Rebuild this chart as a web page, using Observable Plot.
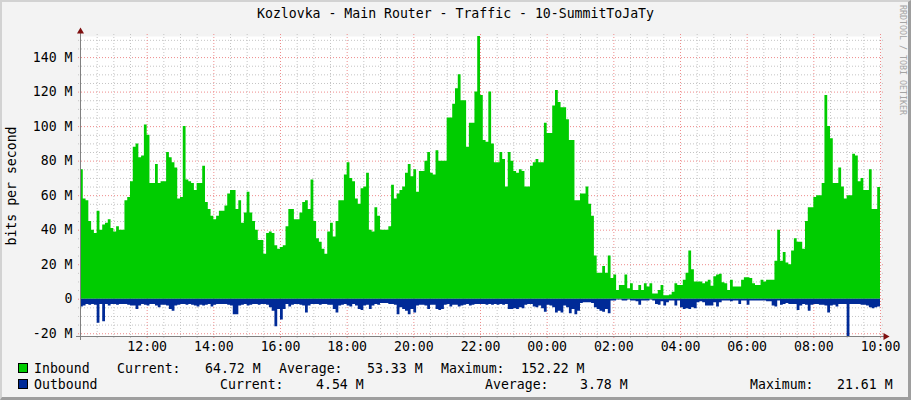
<!DOCTYPE html>
<html><head><meta charset="utf-8">
<script src="https://cdn.jsdelivr.net/npm/d3@7"></script>
<script src="https://cdn.jsdelivr.net/npm/@observablehq/plot@0.6"></script>
<style>
html,body{margin:0;padding:0;background:#f3f3f3;}
#wrap{position:relative;width:911px;height:400px;background:#f3f3f3;overflow:hidden;font-family:"DejaVu Sans Mono",monospace;font-size:13.2px;color:#000;}
#wrap svg{position:absolute;left:0;top:0;}
.t{position:absolute;white-space:pre;line-height:1;}
.sq{position:absolute;width:10px;height:10px;box-sizing:border-box;border:1px solid #000;}
#border{position:absolute;left:0;top:0;width:911px;height:400px;box-sizing:border-box;border-left:2px solid #d2d2d2;border-top:2px solid #d2d2d2;border-right:3px solid #9e9e9e;border-bottom:3px solid #9e9e9e;pointer-events:none;}
</style></head>
<body><div id="wrap"></div>
<script>
// 5-minute samples, 10:00 -> 10:00 next day (Mbit/s)
const inbound = [
 75,58,57,45,40,38,51,40,43,44,46,41,39,42,40,40,57,59,68,88,90,82,83,101,95,67,67,78,67,68,68,85,82,79,76,58,
 59,100,69,68,67,63,67,67,77,56,52,48,46,48,51,51,54,61,63,63,52,57,44,50,62,50,45,40,34,34,26,38,39,38,31,29,
 30,31,42,52,52,46,46,50,56,57,52,69,45,35,33,29,26,39,44,36,45,57,57,72,79,70,68,58,55,64,65,73,40,39,53,48,
 40,40,40,42,66,58,61,63,65,73,78,71,75,62,74,74,80,85,73,72,86,80,80,80,105,105,113,122,130,115,115,88,102,102,120,152.22,
 118,92,91,120,90,79,79,85,81,65,85,80,74,73,75,74,65,65,77,79,81,79,79,102,96,96,112,121,114,111,111,104,92,92,57,57,
 61,61,65,55,48,25,15,15,19,15,25,12,14,5,8,8,14,6,9,5,5,8,5,9,7,9,3,3,5,8,2,2,2.5,4,9,8,
 8,11,15,28,17,10,10,10,9,10,11,7.5,13,14,14.5,9.5,9,5,11,7,7,7,11,12.5,12.5,12,9,8,8,11,10,11,11,11,22,40,
 22,27,21,20,28,35,33,33,29,45,53,53,59,60,60,67,118,100,93,67,67,76,65,58,60,60,84,83,68,70,63,63,75,52,52,64.72
];
const outbound = [
 4.5,4,3,3.5,3,3.5,14,3,13,3,4,3,3,3.5,3,3,3,3.5,4,4,6,4,3,3.5,4,3,3,4,5,3.5,3.5,4,6,7,4,3.5,
 3,3,3.5,3,3.5,4,4.5,3.5,4,3.5,3,4.5,3.5,3,3,3,3,3.5,4,9,9,4,3.5,3,4,3.5,3,3,3.5,3,3,3.5,5,7,16,6,
 12,6,3,4.5,3.5,3,3,3.5,4,8,4,3,3,3,3.5,3,3,3.5,3.5,6,8,4,3.5,3,4,4.5,3,4,6,6.5,4,3.5,6,4,3,3.5,
 2.5,2.5,2.5,3,3,3.5,9,5,6,7,9,6,8,4,3.5,3.5,4,6,3.5,3.5,6,6.5,6,3.5,3,4.5,3.5,3.5,4.5,4,3.5,3,4,3.5,3,3,
 3,3,3.5,3,3.5,3,3.5,3,3.5,3,6,6,5.5,6,5,5.5,3.5,3,3,4.5,5,4,5.5,7.5,3.5,4,5,8,7,8,4,5,8.5,6,9,7,
 2.5,2,2,2,2.5,5,6,7,7.5,6,8.5,1,1,0.5,0.5,1,1,0.5,1,1,1.5,3.5,1,1,1,0.5,1,3,3.5,1.5,4,2,1,1,4,1,
 5,6,5.5,6,5,5.5,2,1.5,2,4,4,4,2,4.5,2,1,1,1,1.5,1,1,3,1,1,3.5,1,1,1,1,1,1,1.5,1.5,4,4.5,1,
 3.5,3,2.5,3,3,3,6.5,4,3,3.5,7,3.5,3,3,3.5,3.5,4,8,4,3.5,4.5,3,3,3,21.61,3,3,3,3,3.5,3.5,4,5,5.5,5,4.54
];
const xTickLabels = ["12:00","14:00","16:00","18:00","20:00","22:00","00:00","02:00","04:00","06:00","08:00","10:00"];
const yTickValues = [-20,0,20,40,60,80,100,120,140];
const yTickLabels = ["-20 M","0","20 M","40 M","60 M","80 M","100 M","120 M","140 M"];
const yMin = -21.61, yMax = 152.22;
const legendRows = [
  {name:"Inbound", color:"#00cc00", cur:"64.72 M", avg:"53.33 M", max:"152.22 M"},
  {name:"Outbound", color:"#002a97", cur:"4.54 M", avg:"3.78 M", max:"21.61 M"}
];

const HOUR = 3600*1000, STEP = 5*60*1000;
const start = Date.UTC(2024,0,1,10,0), end = start + 24*HOUR;
const rows = inbound.map((v,i)=>({t:new Date(start+i*STEP), inb:v, out:-outbound[i]}));
// closing sample so the last step reaches the right edge
rows.push({t:new Date(end), inb:inbound[inbound.length-1], out:-outbound[outbound.length-1]});
const xMajor = d3.utcHour.every(2).range(new Date(start), new Date(end+1));
const xMinor = d3.utcMinute.every(30).range(new Date(start), new Date(end+1)).filter(d => d.getUTCMinutes() !== 0 || d.getUTCHours() % 2 !== 0);
const xTicks = xTickLabels.map((s,i)=> new Date(start + (i+1)*2*HOUR));
const xLab = new Map(xTicks.map((d,i)=>[+d, xTickLabels[i]]));
const yLab = new Map(yTickValues.map((v,i)=>[v, yTickLabels[i]]));
const yMinor = d3.range(-20, 151, 5).filter(v => v % 20 !== 0);

const chart = Plot.plot({
  width: 911, height: 400,
  marginLeft: 80, marginRight: 31, marginTop: 36, marginBottom: 64,
  style: {background: "transparent", fontFamily: "DejaVu Sans Mono", fontSize: "13.2px", color: "#000", overflow: "visible"},
  x: {type: "utc", domain: [new Date(start), new Date(end)]},
  y: {domain: [yMin, yMax]},
  marks: [
    Plot.frame({fill: "#ffffff", stroke: "none"}),
    Plot.ruleY(yMinor, {stroke: "#c4c4c4", strokeDasharray: "1,2", insetLeft: -2, insetRight: -3}),
    Plot.ruleX(xMinor, {stroke: "#c4c4c4", strokeDasharray: "1,2", insetTop: -2, insetBottom: -2}),
    Plot.ruleY(yTickValues, {stroke: "#ee8c8c", strokeDasharray: "1,2", insetLeft: -2, insetRight: -3}),
    Plot.ruleX(xMajor, {stroke: "#ee8c8c", strokeDasharray: "1,2", insetTop: -2, insetBottom: -2}),
    Plot.areaY(rows, {x: "t", y: "inb", fill: "#00cc00", curve: "step-after"}),
    Plot.areaY(rows, {x: "t", y: "out", fill: "#002a97", curve: "step-after"}),
    Plot.ruleX([new Date(start)], {stroke: "#808080", insetTop: -5, insetBottom: -4}),
    Plot.ruleY([yMin], {stroke: "#808080", insetLeft: -4, insetRight: -4}),
    Plot.dot([0], {x: () => new Date(start), y: () => yMax, symbol: "triangle", r: 2.6, fill: "#7f1010", stroke: "none", dy: -5}),
    Plot.dot([0], {x: () => new Date(end), y: () => yMin, symbol: "triangle", r: 2.6, fill: "#7f1010", stroke: "none", dx: 5, rotate: 90}),
    Plot.axisY(yTickValues, {tickFormat: d => yLab.get(d), tickSize: 0, tickPadding: 8, label: null, fill: "#000"}),
    Plot.axisX(xTicks, {tickFormat: d => xLab.get(+d), tickSize: 0, tickPadding: 5, label: null, fill: "#000"})
  ]
});

const wrap = document.getElementById("wrap");
wrap.appendChild(chart);
function addText(txt, left, top, extra) {
  const d = document.createElement("div");
  d.className = "t"; d.textContent = txt;
  d.style.left = left + "px"; d.style.top = top + "px";
  if (extra) Object.assign(d.style, extra);
  wrap.appendChild(d); return d;
}
addText("Kozlovka - Main Router - Traffic - 10-SummitToJaTy", 0, 7, {width: "911px", textAlign: "center"});
addText("bits per second", 12, 186, {transform: "translate(-50%,-50%) rotate(-90deg)"});
addText("RRDTOOL / TOBI OETIKER", 903, 60, {transform: "translate(-50%,-50%) rotate(90deg)", fontSize: "8.3px", color: "#a4a4a4"});
// legend
const cols = [
  {cur: 117, curV: 205, avg: 279, avgV: 367, max: 441, maxV: 521},
  {cur: 220, curV: 316, avg: 485, avgV: 580, max: 750, maxV: 837}
];
legendRows.forEach((r, k) => {
  const top = 362 + k*16;
  const sq = document.createElement("div");
  sq.className = "sq"; sq.style.left = "18px"; sq.style.top = (top + 1) + "px"; sq.style.background = r.color;
  wrap.appendChild(sq);
  const c = cols[k];
  addText(r.name, 34, top);
  addText("Current:", c.cur, top);
  addText(r.cur, c.curV, top);
  addText("Average:", c.avg, top);
  addText(r.avg, c.avgV, top);
  addText("Maximum:", c.max, top);
  addText(r.max, c.maxV, top);
});
const b = document.createElement("div"); b.id = "border"; wrap.appendChild(b);
</script>
</body></html>
